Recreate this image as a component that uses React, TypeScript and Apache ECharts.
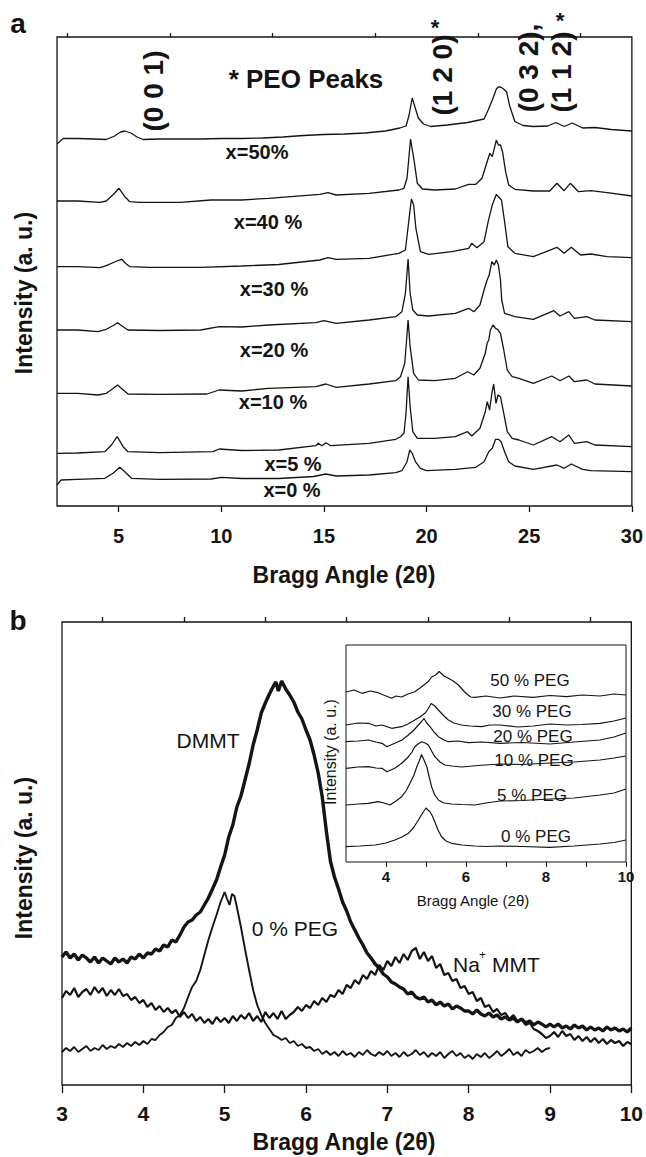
import React, { useEffect, useRef } from "react";
import * as echarts from "echarts";

// ---------- Panel a: XRD patterns (intensity in arbitrary units) ----------
const peo50 = [[2,362],[2.3,367.5],[3,367.5],[3.8,367],[4.4,366.5],[4.8,370],[5.1,374],[5.3,375],[5.6,373],[5.9,369],[6.2,366.5],[7,367],[8,367],[9,367],[10,367.5],[11,367.5],[12,368],[13,369],[14,370.5],[15,371.5],[16,372],[17,373],[18,375],[18.7,378],[19,380],[19.15,391],[19.3,408],[19.45,398],[19.6,388],[19.85,382],[20.2,379.5],[21,381],[22,383.5],[22.8,387],[23,396],[23.2,406],[23.4,417],[23.5,419],[23.6,419],[23.75,417],[23.9,414],[24.05,400],[24.3,384.5],[24.7,380.5],[25.2,379.5],[25.9,380],[26.3,383.5],[26.7,379.5],[27.1,383],[27.6,378],[28.2,378.5],[29,376.5],[30,375]];
const peo40 = [[2,305],[3,305],[4.1,303.7],[4.4,305],[4.8,312.7],[5.02,317.7],[5.3,309.3],[5.55,304.3],[6,303.7],[8,303.7],[9.5,306],[11,306],[12.3,307.7],[14.8,311.7],[15.2,313.3],[15.6,311],[17.2,312.7],[18.65,316],[18.9,317.7],[19.05,328],[19.22,367],[19.4,344.3],[19.55,322.7],[19.8,317],[20.4,316],[21.4,317],[22.05,321.7],[22.4,321.7],[22.7,327.7],[22.95,344.3],[23.08,352.7],[23.2,349.3],[23.4,366],[23.5,361],[23.6,361],[23.7,354.3],[23.85,334.3],[24,321],[24.3,316.7],[25.2,315],[26,315],[26.35,322.7],[26.7,315.3],[27,322.7],[27.4,314.3],[28,315.3],[28.8,313.3],[30,310]];
const peo30 = [[2,239.3],[3,239.3],[4.1,238.3],[4.4,240.3],[4.8,244],[5.14,246.7],[5.35,242.5],[5.55,239.3],[6.5,238.7],[9,238.7],[11,240],[12.8,241.5],[14.8,246],[15.2,248.3],[15.6,246.7],[17.2,247.7],[18.65,252.7],[18.97,256],[19.13,284.3],[19.26,307],[19.37,301],[19.48,277.7],[19.7,254.3],[20.1,251.7],[21.24,254.3],[22.05,257.7],[22.2,262.7],[22.45,258.3],[22.8,264.3],[23,284.3],[23.2,301],[23.4,311.7],[23.5,309.3],[23.65,306],[23.8,284.3],[23.96,259.3],[24.3,252.7],[25.2,249.3],[26.35,258.7],[26.7,252.7],[27.05,258.7],[27.5,251],[28,252],[28.8,249.3],[30,248.3]];
const peo20 = [[2,176],[3,176],[4,174.3],[4.4,176.7],[4.7,180],[4.95,183.3],[5.2,179.5],[5.46,176],[7,175.5],[9,176],[9.9,179.3],[11,179],[12.3,181],[14.6,183.3],[15,185.3],[15.6,182.7],[17.2,186],[18.5,189.3],[18.8,194.3],[18.97,212.7],[19.1,247],[19.2,212.7],[19.33,196],[19.55,191],[20.1,190],[21.4,192.7],[22.05,197.7],[22.3,194.3],[22.6,201],[22.8,216],[22.95,226],[23.05,231],[23.18,244.3],[23.3,241],[23.4,246],[23.5,241],[23.6,226],[23.66,206],[23.8,192.7],[24.3,189.3],[25.2,186.7],[26.2,195.3],[26.5,190],[26.93,194.3],[27.2,187.7],[27.8,189.3],[28.2,186],[30,184.3]];
const peo10 = [[2,112.7],[3,112.7],[4,111],[4.4,112.7],[4.7,117],[4.95,121],[5.2,116.5],[5.46,112],[7,111.7],[9.3,112],[9.9,116],[11,115],[12.3,117.7],[14.6,119.3],[15.1,122],[15.6,118.7],[17.2,122],[18.5,125.3],[18.73,129.3],[18.94,142.7],[19.1,186],[19.2,159.3],[19.37,132.7],[19.6,126],[20.4,125.3],[21.4,127.7],[22,134.3],[22.3,131],[22.6,137.7],[22.86,152.7],[22.95,162.7],[23.03,166],[23.11,176],[23.24,181],[23.36,177.7],[23.46,176.7],[23.6,172.7],[23.76,156],[23.93,136],[24.17,129.3],[24.5,127.7],[25.2,122.7],[26.1,130],[26.5,125.3],[26.93,130],[27.2,124.3],[27.8,126],[28.2,122],[30,120]];
const peo5 = [[2,52.7],[3,53],[4.33,54.3],[4.65,61],[4.93,69.3],[5.22,59.3],[5.46,54.3],[7,53.3],[9.6,54.3],[9.9,57],[11,55.5],[12.8,56],[14.6,60.3],[14.73,62.7],[14.9,60.3],[15.1,63.3],[15.33,60.3],[17.2,62.7],[18.5,66.7],[18.73,69.3],[18.9,72.7],[19,92.7],[19.1,129.3],[19.2,99.3],[19.33,74.3],[19.55,67.7],[20.4,67.7],[21.4,69.3],[22,74.3],[22.2,70],[22.6,77.7],[22.86,94.3],[22.96,104.3],[23.07,96],[23.18,112.7],[23.27,122],[23.38,102.7],[23.48,111],[23.6,109.3],[23.76,92.7],[23.93,74.3],[24.17,67.7],[24.5,66],[25.2,61],[26.1,69.3],[26.5,64.3],[26.93,71],[27.2,62.7],[27.8,64.3],[28.2,61],[30,59.3]];
const peo0 = [[2,21],[2.2,26],[3,26.7],[4.33,27.7],[4.73,32.7],[5.06,38.7],[5.3,34.3],[5.63,27.7],[7,26.7],[9.5,27],[10,28.7],[11,27.5],[12.8,27.5],[14.5,29.5],[15.1,32],[15.6,30],[17.2,31],[18.5,33.3],[18.8,35.3],[19.05,44.3],[19.18,56],[19.3,52.7],[19.46,44.3],[19.7,37.7],[20,35.3],[21.4,36.7],[22.4,38.7],[22.8,44.3],[23.03,54.3],[23.2,57.7],[23.36,66.7],[23.5,66.7],[23.63,64.3],[23.8,54.3],[24,44.3],[24.3,40],[25.2,36.7],[26.35,41],[26.7,37.7],[27.05,42],[27.6,36.7],[28,35.3],[30,34.3]];
const panelATraces = [peo50, peo40, peo30, peo20, peo10, peo5, peo0];
const panelALabels = ["x=50%", "x=40 %", "x=30 %", "x=20 %", "x=10 %", "x=5 %", "x=0 %"];
const panelAMajorTicks = [5, 10, 15, 20, 25, 30];
const panelAMinorTicks = [2.5, 7.5, 12.5, 17.5, 22.5, 27.5];

// ---------- Panel b: main traces ----------
const dmmt = [[3,128],[3.05,133],[3.1,127],[3.15,131],[3.2,125],[3.25,130],[3.3,127],[3.35,123],[3.4,128],[3.45,122],[3.5,127],[3.55,124],[3.6,121],[3.65,127],[3.7,123],[3.75,126],[3.8,122],[3.85,128],[3.9,126],[3.95,131],[4,127],[4.05,132],[4.1,131],[4.15,136],[4.2,134],[4.25,140],[4.3,138],[4.35,145],[4.4,143],[4.45,150],[4.5,158],[4.55,163],[4.6,165],[4.65,170],[4.7,173],[4.75,180],[4.8,187],[4.85,196],[4.9,205],[4.95,218],[5,230],[5.05,248],[5.1,260],[5.15,278],[5.2,289],[5.25,305],[5.3,321],[5.35,340],[5.4,355],[5.45,372],[5.5,382],[5.55,391],[5.6,399],[5.63,403],[5.66,394],[5.7,404],[5.75,396],[5.8,390],[5.85,383],[5.9,373],[5.95,366],[6,355],[6.05,345],[6.1,330],[6.15,312],[6.2,288],[6.25,254],[6.3,224],[6.35,208],[6.4,196],[6.45,183],[6.5,174],[6.55,163],[6.6,155],[6.65,147],[6.7,140],[6.75,132],[6.8,127],[6.85,121],[6.9,117],[6.95,111],[7,108],[7.05,103],[7.1,101],[7.15,98],[7.2,96],[7.25,91],[7.3,93],[7.35,88],[7.4,86],[7.45,88],[7.5,83],[7.55,85],[7.6,80],[7.65,83],[7.7,79],[7.75,81],[7.8,76],[7.85,79],[7.9,77],[7.95,74],[8,74],[8.05,71],[8.1,75],[8.15,71],[8.2,69],[8.25,72],[8.3,68],[8.35,70],[8.4,66],[8.45,68],[8.5,65],[8.55,67],[8.6,63],[8.65,66],[8.7,62],[8.75,64],[8.8,60],[8.85,63],[8.9,61],[8.95,58],[9,61],[9.05,58],[9.1,61],[9.15,57],[9.2,59],[9.25,56],[9.3,60],[9.35,57],[9.4,59],[9.45,55],[9.5,58],[9.55,55],[9.6,57],[9.65,54],[9.7,58],[9.75,55],[9.8,57],[9.85,54],[9.9,56],[9.95,53],[10,57]];
const peg0 = [[3,33],[3.05,37],[3.1,34],[3.15,38],[3.2,33],[3.25,36],[3.3,39],[3.35,34],[3.4,37],[3.45,35],[3.5,40],[3.55,36],[3.6,39],[3.65,37],[3.7,41],[3.75,38],[3.8,42],[3.85,39],[3.9,43],[3.95,40],[4,44],[4.05,41],[4.1,46],[4.15,45],[4.2,50],[4.25,53],[4.3,58],[4.35,60],[4.4,67],[4.45,70],[4.5,77],[4.55,88],[4.6,98],[4.65,104],[4.7,115],[4.75,130],[4.8,145],[4.85,158],[4.9,170],[4.95,183],[5,193],[5.03,186],[5.06,180],[5.09,191],[5.12,189],[5.15,178],[5.2,158],[5.25,136],[5.3,115],[5.35,95],[5.4,80],[5.45,70],[5.5,62],[5.55,56],[5.6,50],[5.65,48],[5.7,45],[5.75,47],[5.8,42],[5.85,44],[5.9,39],[5.95,41],[6,37],[6.05,38],[6.1,34],[6.15,36],[6.2,31],[6.25,34],[6.3,30],[6.35,33],[6.4,29],[6.45,34],[6.5,30],[6.55,32],[6.6,28],[6.65,33],[6.7,30],[6.75,35],[6.8,31],[6.85,29],[6.9,33],[6.95,30],[7,34],[7.05,29],[7.1,32],[7.15,28],[7.2,33],[7.25,29],[7.3,31],[7.35,35],[7.4,30],[7.45,33],[7.5,28],[7.55,32],[7.6,29],[7.65,33],[7.7,27],[7.75,31],[7.8,34],[7.85,29],[7.9,32],[7.95,27],[8,30],[8.05,26],[8.1,31],[8.15,28],[8.2,32],[8.25,27],[8.3,30],[8.35,34],[8.4,29],[8.45,32],[8.5,36],[8.55,30],[8.6,33],[8.65,29],[8.7,35],[8.75,32],[8.8,34],[8.85,37],[8.9,33],[8.95,36],[9,37]];
const naMmt = [[3,87],[3.05,94],[3.1,90],[3.15,97],[3.2,88],[3.25,93],[3.3,96],[3.35,90],[3.4,98],[3.45,92],[3.5,97],[3.55,89],[3.6,95],[3.65,90],[3.7,96],[3.75,89],[3.8,91],[3.85,85],[3.9,88],[3.95,82],[4,85],[4.05,78],[4.1,82],[4.15,75],[4.2,79],[4.25,73],[4.3,77],[4.35,72],[4.4,75],[4.45,68],[4.5,73],[4.55,67],[4.6,71],[4.65,64],[4.7,68],[4.75,62],[4.8,66],[4.85,61],[4.9,68],[4.95,63],[5,67],[5.05,62],[5.1,69],[5.15,64],[5.2,70],[5.25,66],[5.3,72],[5.35,64],[5.4,69],[5.45,63],[5.5,73],[5.55,67],[5.6,72],[5.65,66],[5.7,74],[5.75,66],[5.8,70],[5.85,73],[5.9,78],[5.95,74],[6,80],[6.05,77],[6.1,84],[6.15,80],[6.2,87],[6.25,83],[6.3,90],[6.35,88],[6.4,95],[6.45,91],[6.5,100],[6.55,97],[6.6,105],[6.65,101],[6.7,110],[6.75,106],[6.8,114],[6.85,110],[6.9,120],[6.95,115],[7,124],[7.05,119],[7.1,128],[7.15,122],[7.2,131],[7.25,125],[7.3,134],[7.35,137],[7.4,126],[7.45,133],[7.5,124],[7.55,129],[7.6,117],[7.65,121],[7.7,110],[7.75,112],[7.8,104],[7.85,106],[7.9,97],[7.95,99],[8,91],[8.05,93],[8.1,84],[8.15,87],[8.2,78],[8.25,80],[8.3,73],[8.35,76],[8.4,70],[8.45,72],[8.5,66],[8.55,70],[8.6,64],[8.65,66],[8.7,60],[8.75,62],[8.8,56],[8.85,54],[8.9,51],[8.95,47],[9,49],[9.05,53],[9.1,48],[9.15,54],[9.2,49],[9.25,51],[9.3,45],[9.35,49],[9.4,44],[9.45,48],[9.5,43],[9.55,47],[9.6,42],[9.65,46],[9.7,41],[9.75,45],[9.8,42],[9.85,44],[9.9,39],[9.95,43],[10,41]];
const panelBMajorTicks = [3, 4, 5, 6, 7, 8, 9, 10];
const panelBMinorTicks = [3.5, 4.5, 5.5, 6.5, 7.5, 8.5, 9.5];

// ---------- Panel b inset ----------
const ins50 = [[3,170],[3.2,172],[3.4,168.7],[3.6,171],[3.8,169.3],[4,166],[4.14,163.7],[4.25,166],[4.39,165],[4.55,168],[4.72,170.3],[4.85,174],[4.98,178],[5.07,181],[5.14,185],[5.24,187],[5.33,190.5],[5.45,186],[5.56,183.7],[5.68,181],[5.81,177],[5.92,172],[6.02,168],[6.12,165],[6.22,164.7],[6.5,166],[6.85,164],[7.2,166],[7.68,164.7],[8.1,166.5],[8.52,165.3],[8.9,167],[9.35,166],[9.7,168],[10,167]];
const ins30 = [[3,137],[3.3,139],[3.56,138.7],[3.75,136],[3.9,137],[4.14,133.7],[4.39,135.3],[4.55,138],[4.72,142],[4.85,145],[4.98,149],[5.05,153],[5.13,158.5],[5.22,156],[5.31,152],[5.45,146],[5.56,142],[5.7,139],[5.89,137],[6.1,136],[6.39,135.3],[6.6,137],[6.85,137],[7.3,135],[7.68,136],[8.1,138],[8.52,137],[8.9,137.5],[9.35,138.7],[9.7,141],[10,144]];
const ins20 = [[3,120.3],[3.3,121],[3.56,122],[3.75,120],[3.9,118.7],[4.02,115.3],[4.12,117],[4.22,118.7],[4.4,122],[4.56,127],[4.7,132],[4.81,137],[4.88,140],[4.95,143.5],[5.02,139],[5.1,135.3],[5.2,130],[5.31,125.3],[5.45,122],[5.56,120.3],[5.8,121],[6.06,119.3],[6.4,120],[6.85,118.7],[7.4,119.5],[8.1,118],[8.7,120],[9.35,122],[9.7,125],[10,129]];
const ins10 = [[3,93.7],[3.3,95],[3.56,95.3],[3.75,94],[3.9,93.7],[4.02,90.3],[4.12,92],[4.22,93.7],[4.4,99],[4.56,105.3],[4.65,110],[4.72,115.3],[4.8,118],[4.89,120.3],[4.98,119],[5.06,117],[5.14,111],[5.22,105.3],[5.35,100],[5.47,97],[5.65,96],[5.89,95],[6.3,96.5],[6.85,98],[7.4,97.5],[8.1,99],[8.7,100],[9.35,102],[9.7,104],[10,106]];
const ins5 = [[3,57],[3.3,58],[3.56,58.7],[3.8,60.3],[3.95,59],[4.1,57],[4.25,61],[4.39,65.3],[4.5,71],[4.6,78.7],[4.7,87],[4.77,95.3],[4.83,101],[4.89,107.5],[4.95,102],[5.02,95.3],[5.08,85],[5.14,75.3],[5.22,67],[5.31,62],[5.45,59],[5.64,58],[5.9,57.5],[6.22,57],[6.5,59],[6.85,61],[7.4,61.5],[8.1,63],[8.7,64],[9.35,67],[9.7,69],[10,73]];
const ins0 = [[3,15.3],[3.35,16],[3.73,17],[4,19],[4.22,22],[4.4,25],[4.56,28.7],[4.7,35],[4.81,42],[4.9,48],[5,54],[5.05,52],[5.1,50.3],[5.16,46],[5.22,40.3],[5.3,32],[5.39,25.3],[5.5,21],[5.64,18.7],[5.9,17],[6.22,16],[6.5,15.5],[6.85,16],[7.4,15.5],[8.1,14.7],[8.7,16],[9.35,18],[9.7,19.5],[10,22]];
const insetTraces = [ins50, ins30, ins20, ins10, ins5, ins0];
const insetLabels = ["50 % PEG", "30 % PEG", "20 % PEG", "10 % PEG", "5 % PEG", "0 % PEG"];
const insetTicks = [4, 5, 6, 7, 8, 9, 10];
const insetTickLabels = [4, 6, 8, 10];

const FONT = "'Liberation Sans', Arial, Helvetica, sans-serif";
const INK = "#141414";

function txt(text: string, x: number, y: number, size: number, bold: boolean, extra: any = {}) {
  return {
    type: "text",
    x,
    y,
    rotation: extra.rotation || 0,
    scaleX: extra.scaleX || 1,
    style: {
      text,
      fontSize: size,
      fontWeight: bold ? "bold" : "normal",
      fontFamily: FONT,
      fill: INK,
      align: extra.align || "center",
      verticalAlign: "middle",
    },
  };
}

const labelYA = [152, 222, 289, 350, 402, 464, 490];
const labelXA = [257, 268, 274, 274, 273, 293, 292];
const labelYInset = [680, 711, 736, 760, 795, 836.5];
const labelXInset = [530, 532, 533, 534, 532, 536];

function buildOption() {
  const lineSeries = (data: number[][], xi: number, yi: number, width: number) => ({
    type: "line",
    data,
    xAxisIndex: xi,
    yAxisIndex: yi,
    showSymbol: false,
    symbol: "none",
    silent: true,
    lineStyle: { color: INK, width },
  });

  const axisBase = (gridIndex: number, min: number, max: number) => ({
    type: "value",
    gridIndex,
    min,
    max,
    axisLine: { show: false },
    splitLine: { show: false },
  });

  const graphics: any[] = [
    txt("a", 18, 23, 28, true),
    txt("b", 18, 620, 28, true),
    txt("Intensity (a. u.)", 24, 293, 23, true, { rotation: Math.PI / 2 }),
    txt("Bragg Angle (2θ)", 344, 575, 23, true),
    txt("* PEO Peaks", 306, 79, 26, true),
    txt("(0 0 1)", 153, 91, 28, true, { rotation: Math.PI / 2 }),
    txt("(1 2 0)", 442, 75, 28, true, { rotation: Math.PI / 2 }),
    txt("(0 3 2),", 528, 68, 28, true, { rotation: Math.PI / 2 }),
    txt("(1 1 2)", 561, 72, 28, true, { rotation: Math.PI / 2 }),
    txt("*", 435, 27, 22, true),
    txt("*", 560, 20, 22, true),
    txt("Intensity (a. u.)", 24, 858, 23, true, { rotation: Math.PI / 2 }),
    txt("Bragg Angle (2θ)", 344, 1142, 23, true),
    txt("DMMT", 208, 740, 21, false),
    txt("0 % PEG", 295, 928, 21, false),
    txt("Na", 453, 964, 21, false, { align: "left" }),
    txt("+", 479, 955, 12, false, { align: "left" }),
    txt("MMT", 492, 964, 21, false, { align: "left" }),
    txt("Intensity (a. u.)", 330, 752, 16, false, { rotation: Math.PI / 2 }),
    txt("Bragg Angle (2θ)", 473, 900, 15, false),
  ];
  panelALabels.forEach((t, i) => graphics.push(txt(t, labelXA[i], labelYA[i], 20, true)));
  insetLabels.forEach((t, i) => graphics.push(txt(t, labelXInset[i], labelYInset[i], 17, false)));

  return {
    animation: false,
    backgroundColor: "#ffffff",
    grid: [
      { left: 57, top: 37, width: 577, height: 469, show: true, borderColor: INK, borderWidth: 1.3, backgroundColor: "transparent" },
      { left: 62, top: 622, width: 570, height: 463, show: true, borderColor: INK, borderWidth: 1.3, backgroundColor: "transparent" },
      { left: 346, top: 645, width: 280, height: 217, show: true, borderColor: INK, borderWidth: 1, backgroundColor: "#ffffff" },
    ],
    xAxis: [
      {
        ...axisBase(0, 2, 30),
        axisTick: { show: true, inside: false, length: 6, customValues: panelAMajorTicks, lineStyle: { color: INK, width: 1.3 } },
        axisLabel: { show: true, customValues: panelAMajorTicks, margin: 20, fontSize: 20, fontWeight: "bold", fontFamily: FONT, color: INK },
      },
      {
        ...axisBase(0, 2, 30),
        axisTick: { show: true, inside: false, length: 4, customValues: panelAMinorTicks, lineStyle: { color: INK, width: 1.3 } },
        axisLabel: { show: false },
      },
      {
        ...axisBase(1, 3, 10),
        axisTick: { show: true, inside: false, length: 8, customValues: panelBMajorTicks, lineStyle: { color: INK, width: 1.3 } },
        axisLabel: { show: true, customValues: panelBMajorTicks, margin: 18, fontSize: 21, fontWeight: "bold", fontFamily: FONT, color: INK },
      },
      {
        ...axisBase(1, 3, 10),
        axisTick: { show: true, inside: false, length: 5, customValues: panelBMinorTicks, lineStyle: { color: INK, width: 1.3 } },
        axisLabel: { show: false },
      },
      {
        ...axisBase(2, 3, 10),
        axisTick: { show: true, inside: false, length: 5, customValues: insetTicks, lineStyle: { color: INK, width: 1 } },
        axisLabel: { show: true, customValues: insetTickLabels, margin: 7, fontSize: 15, fontWeight: "bold", fontFamily: FONT, color: INK },
      },
    ],
    yAxis: [
      { type: "value", gridIndex: 0, min: 0, max: 469, show: false },
      { type: "value", gridIndex: 1, min: 0, max: 463, show: false },
      { type: "value", gridIndex: 2, min: 0, max: 217, show: false },
    ],
    series: [
      ...panelATraces.map((d) => lineSeries(d, 0, 0, 1.3)),
      lineSeries(dmmt, 2, 1, 3.4),
      lineSeries(naMmt, 2, 1, 2.2),
      lineSeries(peg0, 2, 1, 1.9),
      ...insetTraces.map((d) => ({ ...lineSeries(d, 4, 2, 1.2), z: 5 })),
    ],
    graphic: graphics,
  };
}

export default function App() {
  const ref = useRef<HTMLDivElement>(null);
  useEffect(() => {
    if (!ref.current) return;
    const chart = echarts.init(ref.current, null, { renderer: "svg" });
    chart.setOption(buildOption() as any);
    return () => chart.dispose();
  }, []);
  return (
    <div
      ref={ref}
      style={{ position: "absolute", left: 0, top: 0, width: 646, height: 1157, background: "#ffffff" }}
    />
  );
}
